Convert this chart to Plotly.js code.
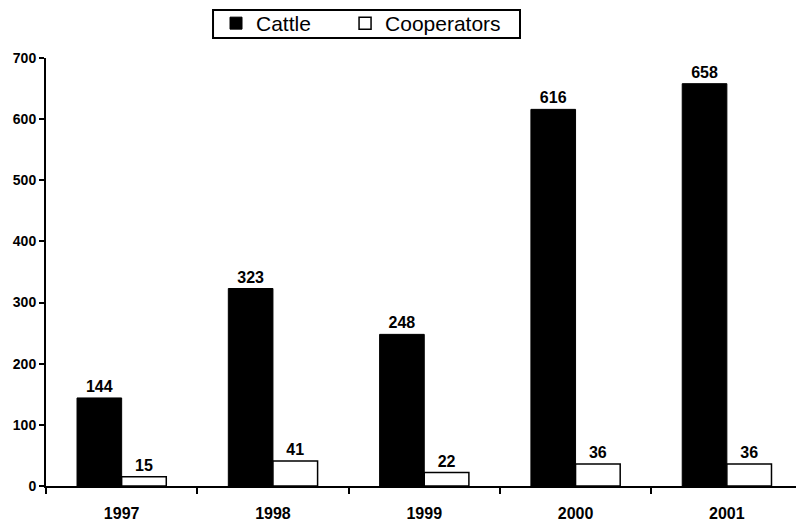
<!DOCTYPE html>
<html>
<head>
<meta charset="utf-8">
<script src="https://cdn.plot.ly/plotly-3.0.1.min.js"></script>
<style>html,body{margin:0;padding:0;background:#fff;}#chart{width:796px;height:524px;}</style>
</head>
<body>
<div id="chart"></div>
<script>
const years = ['1997', '1998', '1999', '2000', '2001'];
const cattle = [144, 323, 248, 616, 658];
const cooperators = [15, 41, 22, 36, 36];
const seriesNames = ['Cattle', 'Cooperators'];
const yTicks = [0, 100, 200, 300, 400, 500, 600, 700];

const FONT = 'Liberation Sans, Arial, sans-serif';
const NB = '\u00a0';

const traces = [
  {
    type: 'bar', name: seriesNames[0] + NB.repeat(5), x: years, y: cattle,
    marker: {color: '#000000', line: {color: '#000000', width: 1}},
    texttemplate: '%{y}', textposition: 'outside', cliponaxis: false,
    textfont: {family: FONT, size: 16, color: '#000', weight: 'bold'}
  },
  {
    type: 'bar', name: seriesNames[1] + NB.repeat(3), x: years, y: cooperators,
    marker: {color: '#ffffff', line: {color: '#000000', width: 1.5}},
    texttemplate: '%{y}', textposition: 'outside', cliponaxis: false,
    textfont: {family: FONT, size: 16, color: '#000', weight: 'bold'}
  }
];

const layout = {
  width: 796, height: 524,
  margin: {l: 46, r: 0, t: 58, b: 38, pad: 0},
  paper_bgcolor: '#ffffff', plot_bgcolor: '#ffffff',
  font: {family: FONT, color: '#000'},
  barmode: 'group', bargap: 0.41, bargroupgap: 0,
  showlegend: true,
  legend: {
    orientation: 'h', x: 0.2267, xanchor: 'left', y: 1.1285, yanchor: 'top',
    borderwidth: 0, bgcolor: 'rgba(0,0,0,0)',
    font: {family: FONT, size: 21, color: '#000'},
    itemclick: false
  },
  shapes: [{
    type: 'rect', xref: 'paper', yref: 'paper',
    x0: 0.2227, x1: 0.632, y0: 1.0467, y1: 1.1121,
    line: {color: '#000', width: 2}, fillcolor: 'rgba(0,0,0,0)', layer: 'above'
  }],
  xaxis: {
    type: 'category', range: [-0.5, 4.457], fixedrange: true,
    showline: true, linecolor: '#000', linewidth: 2,
    ticks: 'outside', tickson: 'boundaries', ticklen: 6, tickwidth: 2, tickcolor: '#000',
    ticklabelstandoff: 12,
    tickfont: {family: FONT, size: 16, color: '#000', weight: 'bold'},
    showgrid: false, zeroline: false
  },
  yaxis: {
    range: [0, 700], tickvals: yTicks, fixedrange: true,
    showline: true, linecolor: '#000', linewidth: 2,
    ticks: 'outside', ticklen: 5, tickwidth: 2, tickcolor: '#000',
    tickfont: {family: FONT, size: 14, color: '#000', weight: 'bold'},
    showgrid: false, zeroline: false
  }
};

Plotly.newPlot('chart', traces, layout, {staticPlot: true, displayModeBar: false});
</script>
</body>
</html>
